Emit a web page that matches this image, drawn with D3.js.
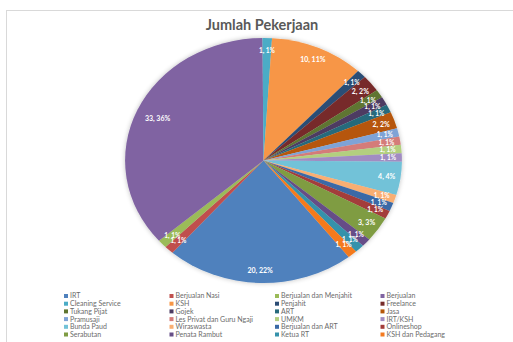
<!DOCTYPE html>
<html>
<head>
<meta charset="utf-8">
<script src="https://cdn.jsdelivr.net/npm/d3@7"></script>
<style>
  body { margin: 0; background: #fff; }
  svg { display: block; font-family: Lato, "Open Sans", sans-serif; }
</style>
</head>
<body>
<div id="chart"></div>
<script>
// data, legend order (as in the sheet)
var categories = ["IRT", "Berjualan Nasi", "Berjualan dan Menjahit", "Berjualan",
  "Cleaning Service", "KSH", "Penjahit", "Freelance",
  "Tukang Pijat", "Gojek", "ART", "Jasa",
  "Pramusaji", "Les Privat dan Guru Ngaji", "UMKM", "IRT/KSH",
  "Bunda Paud", "Wiraswasta", "Berjualan dan ART", "Onlineshop",
  "Serabutan", "Penata Rambut", "Ketua RT", "KSH dan Pedagang"];
var counts = [20, 1, 1, 33, 1, 10, 1, 2, 1, 1, 1, 2, 1, 1, 1, 1, 4, 1, 1, 1, 3, 1, 1, 1];
var title = "Jumlah Pekerjaan";

// office 2007 style palette, 4 shades of the 6 base colours
var colors = [
  "#4f81bd", "#c0504d", "#9bbb59", "#8064a2", "#4bacc6", "#f79646",
  "#2c4d75", "#772c2a", "#5f7530", "#4d3b62", "#276a7c", "#b65708",
  "#7fa3d6", "#d47b79", "#b3cf7f", "#a18cc2", "#72c2d8", "#f9ae72",
  "#3a69a6", "#a33d3a", "#7f9c43", "#664e87", "#3592ab", "#f47a1f"
];

var W = 513, H = 342;
var cx = 263.5, cy = 160.5, R = 122.5, sx = 1.13;
var firstSliceAngle = 142; // degrees, like excel

var svg = d3.select("#chart").append("svg")
  .attr("width", W)
  .attr("height", H);

// chart area border
svg.append("rect")
  .attr("x", 6.5).attr("y", 10.5)
  .attr("width", W + 20).attr("height", H + 20)
  .attr("fill", "#fff")
  .attr("stroke", "#d9d9d9");

svg.append("text")
  .attr("x", 262).attr("y", 30)
  .attr("text-anchor", "middle")
  .attr("font-size", 14.5)
  .attr("font-weight", "bold")
  .attr("fill", "#595959")
  .text(title);

var total = d3.sum(counts);
var a0 = firstSliceAngle * Math.PI / 180;

var pie = d3.pie()
  .sort(null)
  .value(function(d){ return d; })
  .startAngle(a0)
  .endAngle(a0 + 2 * Math.PI);

var arcs = pie(counts);
var arc = d3.arc().innerRadius(0).outerRadius(R);

var defs = svg.append("defs");
var f = defs.append("filter").attr("id", "shadow")
  .attr("x", "-20%").attr("y", "-20%").attr("width", "140%").attr("height", "140%");
f.append("feGaussianBlur").attr("in", "SourceAlpha").attr("stdDeviation", 2.5);
f.append("feOffset").attr("dx", 0).attr("dy", 0).attr("result", "b");
f.append("feComponentTransfer").append("feFuncA").attr("type", "linear").attr("slope", 0.25);
var m = f.append("feMerge");
m.append("feMergeNode");
m.append("feMergeNode").attr("in", "SourceGraphic");

var g = svg.append("g")
  .attr("transform", "translate(" + cx + "," + cy + ") scale(" + sx + ",1)")
  .attr("filter", "url(#shadow)");

g.selectAll("path")
  .data(arcs)
  .enter()
  .append("path")
  .attr("d", arc)
  .attr("fill", function(d, i){ return colors[i]; });

// labels at the inside end of each slice
function labelPos(d){
  var a = (d.startAngle + d.endAngle) / 2;
  var k = d.value > 20 ? 0.84 : 0.9;
  return [Math.sin(a) * R * k * sx, -Math.cos(a) * R * k];
}

var lg = svg.append("g").attr("transform", "translate(" + cx + "," + cy + ")");
lg.selectAll("text")
  .data(arcs)
  .enter()
  .append("text")
  .attr("x", function(d){ return labelPos(d)[0]; })
  .attr("y", function(d){ return labelPos(d)[1]; })
  .attr("dy", "0.35em")
  .attr("text-anchor", "middle")
  .attr("font-size", function(d){ return d.value > 1 ? 7 : 6.5; })
  .attr("font-weight", "bold")
  .attr("fill", "#fff")
  .text(function(d){ return d.value + ", " + Math.round(d.value / total * 100) + "%"; });

// legend, 4 columns
var cols = 4, colW = 105.5, rowH = 7.7, lx = 64, ly = 296;
var leg = svg.append("g");
var item = leg.selectAll("g")
  .data(categories)
  .enter()
  .append("g")
  .attr("transform", function(d, i){
    return "translate(" + (lx + (i % cols) * colW) + "," + (ly + Math.floor(i / cols) * rowH) + ")";
  });

item.append("rect")
  .attr("x", 0).attr("y", -2)
  .attr("width", 4).attr("height", 4)
  .attr("fill", function(d, i){ return colors[i]; });

item.append("text")
  .attr("x", 6)
  .attr("dy", "0.35em")
  .attr("font-size", 7)
  .attr("fill", "#6b6b6b")
  .text(function(d){ return d; });
</script>
</body>
</html>
